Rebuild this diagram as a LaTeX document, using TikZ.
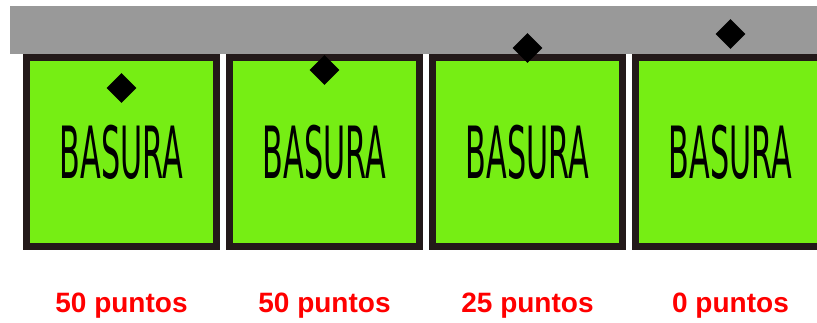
\documentclass[tikz,border=0pt]{standalone}
\usepackage{fontspec}
\setmainfont{DejaVu Sans}
\newfontfamily\ptsfont{Liberation Sans}
\usetikzlibrary{positioning,shapes.geometric}

\definecolor{binGreen}{RGB}{118,238,20}
\definecolor{binEdge}{RGB}{35,25,25}
\definecolor{lidGray}{RGB}{153,153,153}
\definecolor{ptsRed}{RGB}{255,0,0}

\tikzset{
  bin/.style={draw=binEdge,fill=binGreen,line width=7pt,minimum width=190pt,
    minimum height=189pt,inner sep=0pt,font=\fontsize{72}{72}\selectfont},
  drop/.style={diamond,fill=black,minimum size=30pt,inner sep=0pt},
  pts/.style={text=ptsRed,font=\ptsfont\bfseries\fontsize{28}{28}\selectfont}
}

\begin{document}
\begin{tikzpicture}[x=1pt,y=1pt,node distance=203pt,on grid]
   \useasboundingbox (0,0) rectangle (817,322);
   \clip (0,0) rectangle (817,322);
   \fill[lidGray] (10,268) rectangle (817,316);
   \node[bin] (b_1) at (121.5,170) {\scalebox{0.42}[1]{BASURA}};
   \node[bin] (b_2) [right=of b_1] {\scalebox{0.42}[1]{BASURA}};
   \node[bin] (b_3) [right=of b_2] {\scalebox{0.42}[1]{BASURA}};
   \node[bin] (b_4) [right=of b_3] {\scalebox{0.42}[1]{BASURA}};
   % the falling piece over each bin
   \node[drop] (d_1) [above=64pt of b_1] {};
   \node[drop] (d_2) [above=82pt of b_2] {};
   \node[drop] (d_3) [above=104pt of b_3] {};
   \node[drop] (d_4) [above=118pt of b_4] {};
   % scores
   \node[pts] (p_1) [below=154pt of b_1] {50 puntos};
   \node[pts] (p_2) [below=154pt of b_2] {50 puntos};
   \node[pts] (p_3) [below=154pt of b_3] {25 puntos};
   \node[pts] (p_4) [below=154pt of b_4] {0 puntos};
\end{tikzpicture}
\end{document}
